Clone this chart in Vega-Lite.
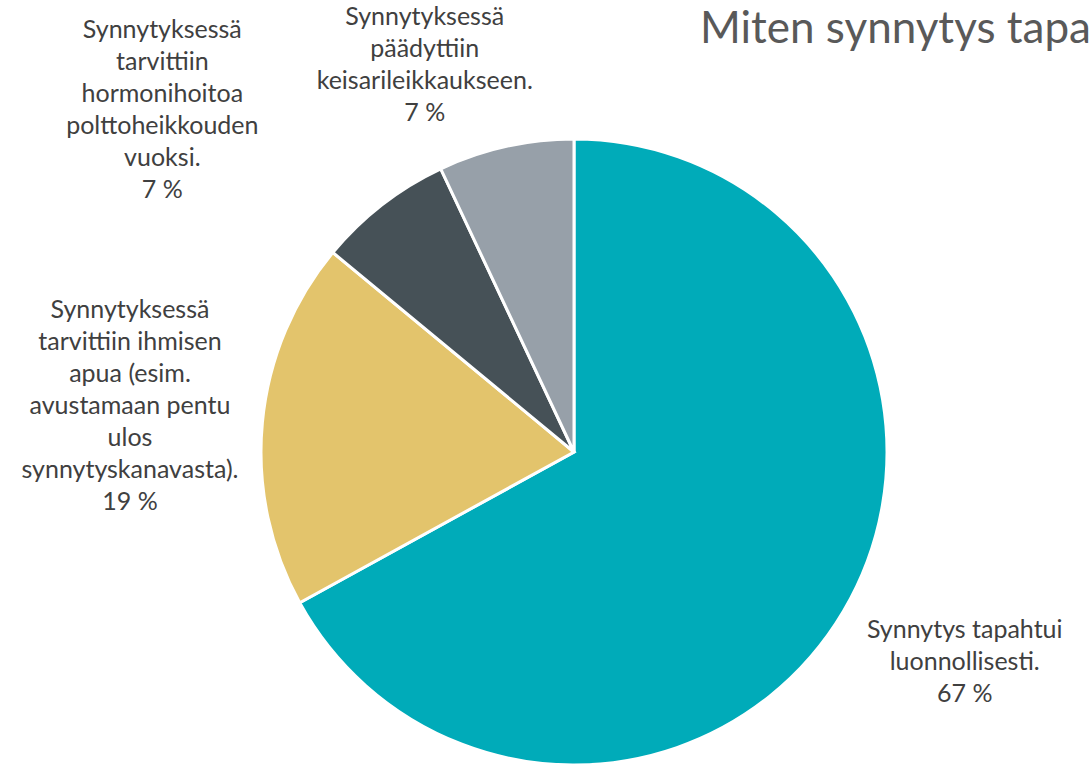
{
  "$schema": "https://vega.github.io/schema/vega-lite/v6.json",
  "autosize": {"type": "none"},
  "width": 626,
  "height": 626,
  "padding": {"left": 261, "top": 139, "right": 204, "bottom": 0},
  "background": "white",
  "config": {"view": {"stroke": null}, "font": "Lato"},
  "title": {
    "text": "Miten synnytys tapahtui?",
    "anchor": "start",
    "frame": "group",
    "dx": 439,
    "offset": 0,
    "dy": 184,
    "baseline": "alphabetic",
    "fontSize": 44,
    "fontWeight": "normal",
    "font": "Lato",
    "color": "#595959"
  },
  "data": {
    "values": [
      {"n": 1, "cat": "Synnytys tapahtui luonnollisesti.", "share": 67, "label": "Synnytys tapahtui\nluonnollisesti.\n67 %"},
      {"n": 2, "cat": "Synnytyksessä tarvittiin ihmisen apua (esim. avustamaan pentu ulos synnytyskanavasta).", "share": 19, "label": "Synnytyksessä\ntarvittiin ihmisen\napua (esim.\navustamaan pentu\nulos\nsynnytyskanavasta).\n19 %"},
      {"n": 3, "cat": "Synnytyksessä tarvittiin hormonihoitoa polttoheikkouden vuoksi.", "share": 7, "label": "Synnytyksessä\ntarvittiin\nhormonihoitoa\npolttoheikkouden\nvuoksi.\n7 %"},
      {"n": 4, "cat": "Synnytyksessä päädyttiin keisarileikkaukseen.", "share": 7, "label": "Synnytyksessä\npäädyttiin\nkeisarileikkaukseen.\n7 %"}
    ]
  },
  "encoding": {
    "theta": {"field": "share", "type": "quantitative", "stack": true},
    "order": {"field": "n", "type": "quantitative"},
    "detail": {"field": "cat", "type": "nominal"}
  },
  "layer": [
    {
      "mark": {"type": "arc", "stroke": "white", "strokeWidth": 3},
      "encoding": {
        "color": {
          "field": "n",
          "type": "nominal",
          "scale": {"domain": [1, 2, 3, 4], "range": ["#00ABB9", "#E3C46C", "#465157", "#97A0A9"]},
          "legend": null
        }
      }
    },
    {
      "mark": {"type": "text", "radius": 440, "dx": 12, "dy": -46, "fontSize": 25, "color": "#404040", "lineBreak": "\n", "lineHeight": 32, "align": "center", "baseline": "middle"},
      "encoding": {"text": {"condition": {"test": "datum.n == 1", "field": "label"}, "value": ""}}
    },
    {
      "mark": {"type": "text", "radius": 448, "dx": 2, "dy": -100, "fontSize": 25, "color": "#404040", "lineBreak": "\n", "lineHeight": 32, "align": "center", "baseline": "middle"},
      "encoding": {"text": {"condition": {"test": "datum.n == 2", "field": "label"}, "value": ""}}
    },
    {
      "mark": {"type": "text", "radius": 440, "dx": -142, "dy": -74, "fontSize": 25, "color": "#404040", "lineBreak": "\n", "lineHeight": 32, "align": "center", "baseline": "middle"},
      "encoding": {"text": {"condition": {"test": "datum.n == 3", "field": "label"}, "value": ""}}
    },
    {
      "mark": {"type": "text", "radius": 400, "dx": -62, "dy": -45, "fontSize": 25, "color": "#404040", "lineBreak": "\n", "lineHeight": 32, "align": "center", "baseline": "middle"},
      "encoding": {"text": {"condition": {"test": "datum.n == 4", "field": "label"}, "value": ""}}
    }
  ]
}
